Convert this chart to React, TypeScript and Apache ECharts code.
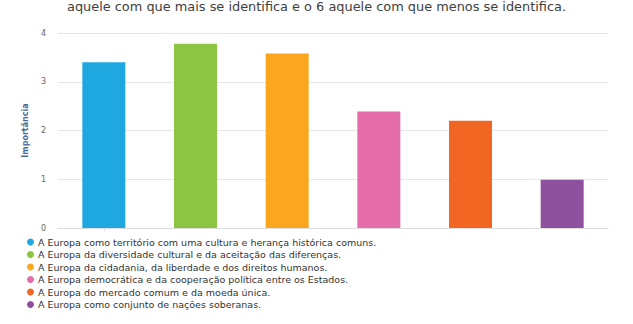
import React, { useEffect, useRef } from "react";
import * as echarts from "echarts";

const categories = [
  "A Europa como território com uma cultura e herança histórica comuns.",
  "A Europa da diversidade cultural e da aceitação das diferenças.",
  "A Europa da cidadania, da liberdade e dos direitos humanos.",
  "A Europa democrática e da cooperação política entre os Estados.",
  "A Europa do mercado comum e da moeda única.",
  "A Europa como conjunto de nações soberanas.",
];
const values = [3.4, 3.78, 3.58, 2.39, 2.2, 0.99];
const colors = ["#1fa8e0", "#8bc541", "#faa61f", "#e36ca9", "#f26623", "#8e519e"];
const yTicks = [0, 1, 2, 3, 4];
const titleText = "aquele com que mais se identifica e o 6 aquele com que menos se identifica.";
const yAxisName = "Importância";

export default function App() {
  const ref = useRef<HTMLDivElement>(null);
  useEffect(() => {
    if (!ref.current) return;
    const chart = echarts.init(ref.current, undefined, { renderer: "svg" });
    const series = categories.map((name, i) => ({
      name,
      type: "bar",
      stack: "all",
      barWidth: 43,
      itemStyle: { color: colors[i] },
      data: categories.map((_, j) => (j === i ? values[i] : "-")),
    }));
    chart.setOption({
      animation: false,
      backgroundColor: "#ffffff",
      textStyle: { fontFamily: "DejaVu Sans" },
      graphic: [
        {
          type: "text",
          left: "center",
          top: 0,
          style: {
            text: titleText,
            fontSize: 12.9,
            fill: "#404040",
            fontFamily: "DejaVu Sans",
          },
        },
      ],
      legend: {
        orient: "vertical",
        left: 22,
        top: 232,
        icon: "circle",
        itemWidth: 7,
        itemHeight: 7,
        itemGap: 2.5,
        textStyle: { fontSize: 9.5, color: "#333", fontFamily: "DejaVu Sans", padding: [0, 0, 0, -1] },
        data: categories,
        selectedMode: false,
      },
      grid: { left: 58, right: 25, top: 33, bottom: 96 },
      xAxis: {
        type: "category",
        data: categories,
        axisLabel: { show: false },
        axisTick: { show: true, alignWithLabel: true, length: 3, lineStyle: { color: "#e0e0e0" } },
        axisLine: { lineStyle: { color: "#dcdcdc" } },
      },
      yAxis: {
        type: "value",
        min: yTicks[0],
        max: yTicks[yTicks.length - 1],
        interval: 1,
        name: yAxisName,
        nameLocation: "middle",
        nameGap: 29,
        nameTextStyle: { color: "#4a6a98", fontSize: 8, fontWeight: "bold", fontFamily: "DejaVu Sans" },
        axisLabel: { fontSize: 8, color: "#666", margin: 12 },
        splitLine: { lineStyle: { color: "#e6e6e6" } },
      },
      series,
    });
    return () => chart.dispose();
  }, []);
  return <div ref={ref} style={{ width: 633, height: 324, position: "absolute", left: 0, top: 0 }} />;
}
